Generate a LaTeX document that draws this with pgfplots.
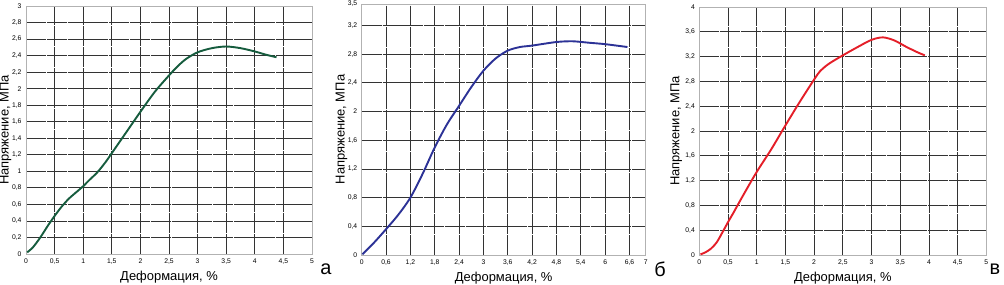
\documentclass[border=0pt]{standalone}
\usepackage{fontspec}
\setmainfont{Liberation Sans}
\usepackage{pgfplots}
\pgfplotsset{compat=1.18}
\definecolor{cgreen}{RGB}{22,92,62}
\definecolor{cblue}{RGB}{44,50,150}
\definecolor{cred}{RGB}{228,30,40}
\pgfplotsset{
  panel/.style={
    scale only axis,
    axis line style={black!30, line width=0.6bp},
    grid=major,
    major grid style={black!80, line width=0.8bp, dash pattern=on 20bp off 0.8bp},
    major tick length=0pt,
    tick label style={font=\fontsize{6.8}{7}\selectfont},
    /pgf/number format/assume math mode=true,
    /pgf/number format/use comma,
    label style={font=\fontsize{13}{14}\selectfont},
    xlabel={Деформация, \%},
    ylabel={Напряжение, МПа},
    xlabel style={at={(axis description cs:0.5,-0.093)}, anchor=center},
    xticklabel style={yshift=-1bp},
    yticklabel style={xshift=-1bp},
    extra tick style={grid=none, major tick length=0pt},
  }
}
\begin{document}
\begin{tikzpicture}[x=1bp,y=1bp]
\useasboundingbox (0,0) rectangle (1004,284);
% panel a
\begin{axis}[panel, at={(26bp,30bp)}, anchor=south west, width=286bp, height=248bp,
  xmin=0, xmax=5, ymin=0, ymax=3,
  xtick={0,0.5,...,4.51}, extra x ticks={5}, ytick={0,0.2,...,3.01},
  ylabel style={at={(axis description cs:-0.072,0.5)}, anchor=center}]
\addplot[cgreen, line width=1.9bp, smooth, tension=0.5] coordinates {
(0.02,0.02) (0.12,0.08) (0.25,0.2) (0.38,0.34) (0.5,0.46) (0.62,0.57) (0.75,0.67)
(0.9,0.76) (1.0,0.82) (1.1,0.89) (1.25,0.99) (1.4,1.12) (1.5,1.22) (1.75,1.47)
(2.0,1.72) (2.25,1.96) (2.5,2.16) (2.65,2.27) (2.8,2.36) (3.0,2.44) (3.25,2.49)
(3.5,2.51) (3.75,2.49) (4.0,2.45) (4.2,2.41) (4.38,2.38)};
\end{axis}
% panel b
\begin{axis}[panel, at={(361.7bp,29bp)}, anchor=south west, width=284bp, height=251bp,
  xmin=0, xmax=7, ymin=0, ymax=3.5,
  xtick={0,0.6,1.2,1.8,2.4,3,3.6,4.2,4.8,5.4,6,6.6}, extra x ticks={7},
  ytick={0,0.4,0.8,1.2,1.6,2,2.4,2.8,3.2}, extra y ticks={3.5},
  ylabel style={at={(axis description cs:-0.071,0.5)}, anchor=center}]
\addplot[cblue, line width=1.9bp, smooth, tension=0.5] coordinates {
(0.02,0.01) (0.3,0.17) (0.6,0.36) (0.9,0.56) (1.2,0.8) (1.5,1.13) (1.8,1.5)
(2.1,1.82) (2.4,2.08) (2.7,2.34) (3.0,2.57) (3.3,2.74) (3.6,2.85) (3.9,2.9)
(4.2,2.92) (4.8,2.97) (5.2,2.98) (5.6,2.96) (6.0,2.94) (6.55,2.9)};
\end{axis}
% panel c
\begin{axis}[panel, at={(699.3bp,29bp)}, anchor=south west, width=287bp, height=248bp,
  xmin=0, xmax=5, ymin=0, ymax=4,
  xtick={0,0.5,...,4.51}, extra x ticks={5}, ytick={0,0.4,...,4.01},
  ylabel style={at={(axis description cs:-0.080,0.5)}, anchor=center}]
\addplot[cred, line width=1.9bp, smooth, tension=0.5] coordinates {
(0.02,0.01) (0.1,0.04) (0.2,0.1) (0.3,0.2) (0.4,0.36) (0.5,0.53) (0.6,0.69)
(0.75,0.94) (1.0,1.34)
(1.25,1.7) (1.5,2.09) (1.75,2.47) (2.0,2.83) (2.1,2.96) (2.25,3.08) (2.5,3.22)
(2.75,3.35) (3.0,3.47) (3.2,3.51) (3.4,3.46) (3.6,3.36) (3.8,3.27) (3.93,3.22)};
\end{axis}
\node[font=\fontsize{20}{22}\selectfont] at (326,15) {а};
\node[font=\fontsize{20}{22}\selectfont] at (660,15) {б};
\node[font=\fontsize{20}{22}\selectfont] at (995,15) {в};
\end{tikzpicture}
\end{document}
